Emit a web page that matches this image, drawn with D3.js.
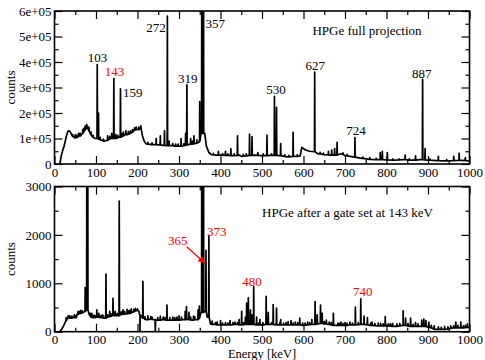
<!DOCTYPE html>
<html>
<head>
<meta charset="utf-8">
<script src="https://cdn.jsdelivr.net/npm/d3@7"></script>
<style>
  body { margin: 0; background: #fff; }
  text { font-family: "Liberation Serif", "Times New Roman", serif; font-size: 13px; }
</style>
</head>
<body>
<svg id="chart" width="485" height="360"></svg>
<script>
// ---- data ----
const xTicks = [0, 100, 200, 300, 400, 500, 600, 700, 800, 900, 1000];
const xLabels = ["0", "100", "200", "300", "400", "500", "600", "700", "800", "900", "1000"];
const topYTicks = [0, 1e5, 2e5, 3e5, 4e5, 5e5, 6e5];
const topYLabels = ["0", "1e+05", "2e+05", "3e+05", "4e+05", "5e+05", "6e+05"];
const botYTicks = [0, 1000, 2000, 3000];
const botYLabels = ["0", "1000", "2000", "3000"];

// full projection: continuum [keV, counts]
const topBase = [[13,0],[16,3e4],[20,5.5e4],[24,7.5e4],[28,1.05e5],[32,1.28e5],[36,1.3e5],[40,1.2e5],[45,1.08e5],[50,1.02e5],
  [55,1.05e5],[60,1.1e5],[65,1.15e5],[70,1.25e5],[75,1.4e5],[80,1.45e5],[85,1.25e5],[90,1.1e5],[95,1.02e5],[100,1.0e5],
  [110,0.95e5],[115,0.92e5],[120,0.9e5],[125,0.92e5],[130,0.95e5],[135,1.0e5],[140,1.02e5],[145,1.0e5],[150,1.02e5],[155,1.05e5],
  [160,1.05e5],[165,1.1e5],[170,1.15e5],[175,1.15e5],[180,1.18e5],[185,1.22e5],[190,1.3e5],[195,1.35e5],[200,1.35e5],[205,1.38e5],
  [208,1.4e5],[212,1.1e5],[216,0.9e5],[220,0.8e5],[230,0.77e5],[240,0.76e5],[250,0.75e5],[260,0.73e5],[270,0.72e5],[280,0.72e5],
  [290,0.7e5],[300,0.7e5],[310,0.72e5],[320,0.75e5],[330,0.78e5],[340,0.8e5],[348,0.85e5],[353,1.2e5],[362,1.2e5],[366,0.7e5],
  [372,0.45e5],[378,0.37e5],[390,0.35e5],[400,0.35e5],[420,0.34e5],[430,0.33e5],[438,0.33e5],[445,0.35e5],[450,0.3e5],[460,0.32e5],
  [480,0.35e5],[500,0.33e5],[520,0.34e5],[540,0.33e5],[560,0.28e5],[580,0.3e5],[592,0.32e5],[596,0.65e5],[605,0.55e5],[615,0.5e5],
  [625,0.48e5],[635,0.4e5],[650,0.37e5],[665,0.35e5],[680,0.35e5],[690,0.4e5],[700,0.33e5],[720,0.28e5],[740,0.22e5],[760,0.18e5],
  [780,0.17e5],[800,0.16e5],[820,0.15e5],[840,0.17e5],[860,0.15e5],[880,0.17e5],[900,0.15e5],[920,0.13e5],[940,0.12e5],[960,0.13e5],
  [980,0.14e5],[1000,0.12e5]];
// full projection: lines [keV, foot counts, top counts]
const topPeaks = [[50,1.02e5,1.15e5],[58,1.08e5,1.2e5],[68,1.2e5,1.35e5],[74,1.35e5,1.5e5],[78,1.4e5,1.55e5],[83,1.3e5,1.45e5],
  [103,1.0e5,3.9e5],[106,0.98e5,2.0e5],[110,0.95e5,1.05e5],[128,0.93e5,1.1e5],[138,1.0e5,1.2e5],[143,1.0e5,3.35e5],[148,1.0e5,1.15e5],
  [159,1.05e5,2.95e5],[166,1.1e5,1.25e5],[172,1.15e5,1.3e5],[197,1.35e5,1.45e5],[203,1.35e5,1.45e5],[208,1.4e5,1.5e5],
  [245,0.76e5,1.0e5],[255,0.75e5,1.1e5],[265,0.73e5,1.3e5],[272,0.72e5,5.8e5],[276,0.72e5,0.9e5],[285,0.72e5,0.8e5],
  [305,0.7e5,1.0e5],[316,0.74e5,1.2e5],[319,0.75e5,3.1e5],[328,0.78e5,1.0e5],[336,0.8e5,1.1e5],[343,0.82e5,0.95e5],[350,0.9e5,2.45e5],
  [355,1.2e5,9e5],[357,1.2e5,9e5],[359,1.2e5,9e5],[395,0.35e5,0.5e5],[412,0.34e5,0.5e5],[425,0.33e5,0.6e5],[441,0.34e5,1.1e5],
  [470,0.34e5,1.17e5],[476,0.34e5,1.07e5],[490,0.34e5,0.45e5],[512,0.33e5,1.13e5],[530,0.34e5,2.65e5],[535,0.34e5,2.22e5],
  [545,0.33e5,0.8e5],[575,0.3e5,1.24e5],[627,0.48e5,3.6e5],[660,0.36e5,0.5e5],[668,0.35e5,0.55e5],[675,0.35e5,0.6e5],
  [681,0.35e5,0.85e5],[724,0.27e5,1.04e5],[760,0.18e5,0.25e5],[785,0.17e5,0.45e5],[790,0.17e5,0.5e5],[802,0.16e5,0.45e5],
  [845,0.17e5,0.35e5],[870,0.15e5,0.32e5],[887,0.17e5,3.32e5],[893,0.16e5,0.6e5],[925,0.13e5,0.3e5],[962,0.13e5,0.3e5],
  [975,0.14e5,0.42e5],[990,0.13e5,0.25e5]];
// full projection: small fluctuations on the continuum
const topJitter = [[44,1.08e5,1.15e5],[54,1.04e5,1.12e5],[62,1.1e5,1.2e5],[71,1.28e5,1.4e5],[88,1.15e5,1.25e5],[93,1.05e5,1.12e5],
  [118,0.9e5,0.98e5],[133,0.98e5,1.08e5],[153,1.03e5,1.12e5],[163,1.08e5,1.18e5],[178,1.17e5,1.27e5],[183,1.2e5,1.3e5],
  [188,1.25e5,1.35e5],[193,1.32e5,1.42e5],[225,0.78e5,0.85e5],[235,0.76e5,0.83e5],[292,0.7e5,0.78e5],[298,0.7e5,0.78e5],
  [312,0.72e5,0.8e5],[332,0.78e5,0.9e5],[383,0.36e5,0.42e5],[405,0.35e5,0.41e5],[418,0.34e5,0.4e5],[433,0.33e5,0.4e5],
  [455,0.31e5,0.38e5],[462,0.32e5,0.4e5],[503,0.33e5,0.4e5],[523,0.34e5,0.4e5],[555,0.3e5,0.36e5],[565,0.28e5,0.34e5],
  [585,0.3e5,0.36e5],[640,0.4e5,0.46e5],[648,0.37e5,0.43e5],[695,0.38e5,0.44e5],[705,0.32e5,0.38e5],[743,0.22e5,0.27e5],
  [775,0.17e5,0.22e5],[815,0.15e5,0.2e5],[830,0.16e5,0.2e5],[855,0.15e5,0.2e5],[905,0.15e5,0.2e5],[945,0.12e5,0.17e5]];

// gated spectrum: continuum
const botBase = [[13,0],[18,60],[22,120],[26,200],[30,260],[35,290],[40,280],[45,300],[50,290],[55,370],[60,380],[65,390],[70,400],
  [73,420],[77,450],[84,350],[88,300],[95,290],[100,300],[110,290],[120,280],[130,310],[140,340],[150,330],[160,360],[170,370],
  [180,380],[190,410],[198,440],[203,430],[206,350],[215,280],[220,250],[230,260],[240,250],[250,240],[260,250],[280,240],[300,240],
  [310,250],[320,260],[330,240],[340,250],[350,300],[353,400],[362,420],[368,300],[376,160],[385,150],[400,140],[420,140],[440,150],
  [450,140],[470,150],[490,140],[500,140],[520,150],[540,140],[560,140],[580,140],[600,130],[620,150],[640,170],[660,150],[680,130],
  [700,130],[720,140],[740,150],[760,130],[780,120],[800,120],[820,110],[840,130],[860,110],[880,110],[900,90],[920,50],[940,50],
  [960,80],[980,80],[1000,90]];
// gated spectrum: lines (a top of 0 is a dip)
const botPeaks = [[33,280,330],[48,290,350],[57,360,420],[63,380,440],[74,420,910],[78,450,5000],[80,450,5000],[90,300,380],
  [102,300,450],[107,300,380],[115,290,350],[124,280,1190],[133,310,420],[141,340,690],[146,330,420],[156,330,2700],[165,360,450],
  [175,370,460],[185,390,470],[195,430,480],[200,440,470],[206,350,0],[213,280,1040],[225,250,330],[243,250,0],[255,240,320],
  [271,240,550],[285,240,300],[300,240,330],[315,250,420],[318,250,520],[324,250,400],[335,240,320],[346,250,450],[349,280,530],
  [355,400,5000],[357,400,5000],[359,400,5000],[365,420,1680],[372,300,1990],[380,150,220],[392,140,200],[400,140,230],[412,140,190],
  [423,140,230],[435,150,200],[445,140,250],[451,140,420],[460,150,300],[463,150,590],[467,150,700],[472,150,450],[476,150,350],
  [480,150,930],[487,140,300],[495,140,250],[510,150,730],[515,150,400],[527,150,560],[535,140,490],[545,140,250],[563,140,210],
  [570,140,230],[580,140,200],[591,140,280],[610,140,200],[620,150,250],[628,150,620],[633,160,350],[641,170,550],[645,170,380],
  [655,160,240],[672,130,380],[690,130,200],[700,130,190],[712,140,200],[725,140,510],[738,150,680],[746,150,320],[754,140,290],
  [765,130,200],[780,120,180],[797,120,310],[815,110,170],[840,130,430],[846,130,280],[858,110,280],[870,110,190],[885,110,240],
  [890,110,260],[895,110,230],[902,90,200],[915,50,120],[940,50,110],[955,70,120],[967,80,200],[979,80,200],[995,90,160]];
// gated spectrum: small fluctuations
const botJitter = [[28,230,290],[37,285,330],[42,280,320],[52,290,330],[61,375,420],[67,390,430],[86,330,380],[93,290,340],
  [97,290,340],[112,290,330],[118,280,330],[128,300,350],[136,320,370],[151,330,380],[161,360,410],[169,365,420],[178,375,430],
  [182,380,440],[191,410,460],[218,260,310],[232,260,310],[235,255,300],[249,240,290],[262,250,300],[266,245,290],[278,240,290],
  [290,240,290],[295,240,300],[306,245,300],[328,245,300],[338,250,310],[388,150,190],[405,140,180],[418,140,180],[430,145,190],
  [441,150,190],[456,145,190],[492,140,180],[502,140,190],[523,150,190],[543,140,190],[552,140,180],[558,140,190],[575,140,180],
  [586,140,190],[598,130,180],[604,135,180],[615,145,190],[650,160,210],[662,150,200],[667,140,190],[683,130,180],[686,130,170],
  [695,130,170],[705,130,180],[718,140,180],[732,145,190],[762,130,180],[772,125,170],[786,120,170],[792,120,160],[805,120,160],
  [810,115,160],[825,110,160],[832,120,170],[852,120,170],[864,110,150],[876,110,160],[908,80,130],[925,50,100],[932,50,90],
  [948,55,100],[962,80,120],[972,80,130],[985,80,120],[990,85,130]];

// annotations [text, keV, counts]
const topNotes = [["103",103.6,4.0e5],["319",321,3.18e5],["530",533.7,2.75e5],["627",628.4,3.69e5],["724",726.5,1.14e5],["887",884.8,3.38e5]];
const topNotesStart = [["159",165,2.64e5],["357",364,5.33e5]];
const topNotesEnd = [["272",268,5.18e5]];
const topRedNotes = [["143",144.6,3.45e5]];
const botRedNotes = [["365",296.9,1791],["373",390.8,1977],["480",476,944],["740",742.7,738]];
const arrow365 = [[318.6,1756],[362.7,1413]];

// ---- layout ----
const svg = d3.select("#chart");
const left = 54.5, right = 469.5;
const x = d3.scaleLinear().domain([0, 1000]).range([left, right]);

function spectrum(base, peaks) {
  const pts = base.slice();
  peaks.forEach(p => { pts.push([p[0] - 0.6, p[1]], [p[0], p[2]], [p[0] + 0.6, p[1]]); });
  return pts.sort((a, b) => a[0] - b[0]);
}

function panel(id, top, bottom, yMax, yTicks, yLabels, yMinor, base, peaks, xLabelY) {
  const y = d3.scaleLinear().domain([0, yMax]).range([bottom, top]);
  const g = svg.append("g");
  const minorX = d3.range(50, 1000, 100);

  g.append("clipPath").attr("id", id).append("rect")
    .attr("x", left).attr("y", top).attr("width", right - left).attr("height", bottom - top);

  g.append("path")
    .datum(spectrum(base, peaks))
    .attr("clip-path", `url(#${id})`)
    .attr("fill", "none").attr("stroke", "#000").attr("stroke-width", 1.7).attr("stroke-linejoin", "round")
    .attr("d", d3.line().x(d => x(d[0])).y(d => y(d[1])));

  const axes = [
    [d3.axisBottom(x).tickValues(xTicks).tickFormat((d, i) => xLabels[i]), `translate(0,${bottom})`, 8, true],
    [d3.axisBottom(x).tickValues(minorX).tickFormat(""), `translate(0,${bottom})`, 4],
    [d3.axisTop(x).tickValues(xTicks).tickFormat(""), `translate(0,${top})`, 8],
    [d3.axisTop(x).tickValues(minorX).tickFormat(""), `translate(0,${top})`, 4],
    [d3.axisLeft(y).tickValues(yTicks).tickFormat((d, i) => yLabels[i]), `translate(${left},0)`, 8],
    [d3.axisLeft(y).tickValues(yMinor).tickFormat(""), `translate(${left},0)`, 4],
    [d3.axisRight(y).tickValues(yTicks).tickFormat(""), `translate(${right},0)`, 8],
    [d3.axisRight(y).tickValues(yMinor).tickFormat(""), `translate(${right},0)`, 4]
  ];
  axes.forEach(([ax, tr, len, isX]) => {
    const a = g.append("g").attr("transform", tr)
      .call(ax.tickSize(-len).tickPadding(3));
    a.select(".domain").remove();
    a.selectAll("line").attr("stroke", "#000").attr("stroke-width", 1.2);
    a.selectAll("text").attr("fill", "#000").style("font-size", "13px")
      .style("font-family", '"Liberation Serif", serif');
    if (isX) a.selectAll("text").attr("dy", null).attr("y", xLabelY - bottom);
  });

  g.append("rect").attr("x", left).attr("y", top).attr("width", right - left).attr("height", bottom - top)
    .attr("fill", "none").attr("stroke", "#000").attr("stroke-width", 1.6);

  g.append("text").attr("transform", `translate(15,${(top + bottom) / 2}) rotate(-90)`)
    .attr("text-anchor", "middle").text("counts");
  return y;
}

const yTop = panel("clipTop", 11, 164, 6e5, topYTicks, topYLabels, d3.range(5e4, 6e5, 1e5),
  topBase, topPeaks.concat(topJitter), 177);
const yBot = panel("clipBot", 186.5, 331.7, 3000, botYTicks, botYLabels, d3.range(500, 3000, 1000),
  botBase, botPeaks.concat(botJitter), 344);

function notes(list, yScale, anchor, color) {
  svg.append("g").selectAll("text").data(list).join("text")
    .attr("x", d => x(d[1])).attr("y", d => yScale(d[2]))
    .attr("text-anchor", anchor).attr("fill", color).text(d => d[0]);
}
notes(topNotes, yTop, "middle", "#000");
notes(topNotesStart, yTop, "start", "#000");
notes(topNotesEnd, yTop, "end", "#000");
notes(topRedNotes, yTop, "middle", "#f00");
notes(botRedNotes, yBot, "middle", "#f00");

svg.append("text").attr("x", x(753)).attr("y", yTop(5.06e5)).attr("text-anchor", "middle").text("HPGe full projection");
svg.append("text").attr("x", x(706)).attr("y", yBot(2376)).attr("text-anchor", "middle").text("HPGe after a gate set at 143 keV");
svg.append("text").attr("x", (left + right) / 2).attr("y", 358).attr("text-anchor", "middle")
  .style("font-size", "12.5px").text("Energy [keV]");

svg.append("defs").append("marker").attr("id", "head").attr("viewBox", "0 0 10 10")
  .attr("refX", 10).attr("refY", 5).attr("markerWidth", 7).attr("markerHeight", 7).attr("orient", "auto")
  .attr("markerUnits", "userSpaceOnUse")
  .append("path").attr("d", "M0,0L10,5L0,10z").attr("fill", "#f00");
svg.append("line")
  .attr("x1", x(arrow365[0][0])).attr("y1", yBot(arrow365[0][1]))
  .attr("x2", x(arrow365[1][0])).attr("y2", yBot(arrow365[1][1]))
  .attr("stroke", "#f00").attr("stroke-width", 1.2).attr("marker-end", "url(#head)");
</script>
</body>
</html>
